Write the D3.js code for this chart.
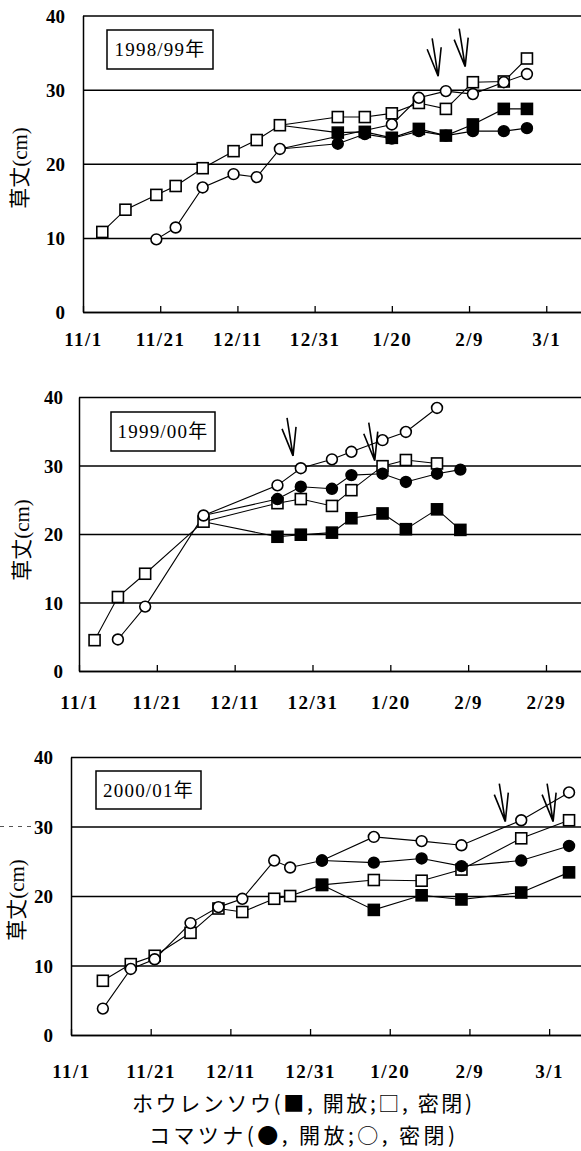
<!DOCTYPE html>
<html lang="ja">
<head>
<meta charset="UTF-8">
<title>草丈の推移</title>
<script src="https://d3js.org/d3.v7.min.js"></script>
<style>
    body { margin: 0; background: #fff; }
    svg { display: block; }
    .num { font-family: 'Liberation Serif', 'Times New Roman', serif; font-weight: bold; font-size: 19px; fill: #000; }
    .xnum { letter-spacing: 1.5px; }
    .ytitle { font-family: 'Liberation Serif', 'Noto Sans CJK JP', serif; font-size: 21px; fill: #000; }
    .year { font-family: 'Liberation Serif', 'Noto Sans CJK JP', serif; font-size: 19px; letter-spacing: 1.2px; fill: #000; }
    .legend { font-family: 'Noto Sans CJK JP', sans-serif; font-size: 21px; fill: #000; }
</style>
</head>
<body>
<div id="chart"></div>
<script>
// ---------- data (草丈 cm) ----------
// 1998/99
const dates1 = ["1998-11-06","1998-11-12","1998-11-20","1998-11-25","1998-12-02","1998-12-10","1998-12-16","1998-12-22",
                "1999-01-06","1999-01-13","1999-01-20","1999-01-27","1999-02-03","1999-02-10","1999-02-18","1999-02-24"];
const spinachClosed1   = [10.8, 13.8, 15.8, 17.0, 19.4, 21.7, 23.2, 25.2, 26.3, 26.3, 26.8, 28.2, 27.4, 31.0, 31.1, 34.2];
const komatsunaClosed1 = [null, null, 9.8, 11.4, 16.8, 18.6, 18.2, 22.0, null, null, 25.3, 28.9, 29.8, 29.4, 31.0, 32.1];
const spinachOpen1     = [null, null, null, null, null, null, null, 25.2, 24.2, 24.3, 23.5, 24.7, 23.8, 25.3, 27.4, 27.4];
const komatsunaOpen1   = [null, null, null, null, null, null, null, 22.0, 22.7, 24.0, 23.4, 24.4, 23.8, 24.4, 24.4, 24.8];
const arrows1 = [["1999-02-01", 31.8], ["1999-02-08", 33.1]];
const ticks1 = ["11/1", "11/21", "12/11", "12/31", "1/20", "2/9", "3/1"];

// 1999/00
const dates2 = ["1999-11-05","1999-11-11","1999-11-18","1999-12-03","1999-12-22","1999-12-28",
                "2000-01-05","2000-01-10","2000-01-18","2000-01-24","2000-02-01","2000-02-07"];
const spinachClosed2   = [4.5, 10.8, 14.2, 21.8, 24.5, 25.1, 24.1, 26.4, 29.9, 30.8, 30.3, null];
const komatsunaClosed2 = [null, 4.6, 9.4, 22.7, 27.1, 29.6, 30.9, 32.0, 33.7, 34.9, 38.4, null];
const spinachOpen2     = [null, null, null, 21.8, 19.6, 19.9, 20.2, 22.3, 23.0, 20.7, 23.6, 20.6];
const komatsunaOpen2   = [null, null, null, 22.7, 25.1, 26.9, 26.6, 28.6, 28.8, 27.6, 28.8, 29.4];
const arrows2 = [["1999-12-26", 31.4], ["2000-01-16", 30.7]];
const ticks2 = ["11/1", "11/21", "12/11", "12/31", "1/20", "2/9", "2/29"];

// 2000/01
const dates3 = ["2000-11-09","2000-11-16","2000-11-22","2000-12-01","2000-12-08","2000-12-14","2000-12-22","2000-12-26",
                "2001-01-03","2001-01-16","2001-01-28","2001-02-07","2001-02-22","2001-03-06"];
const spinachClosed3   = [7.8, 10.2, 11.4, 14.7, 18.2, 17.7, 19.6, 20.0, 21.6, 22.3, 22.2, 23.8, 28.3, 30.9];
const komatsunaClosed3 = [3.8, 9.5, 10.9, 16.1, 18.4, 19.6, 25.1, 24.1, 25.1, 28.5, 27.9, 27.3, 30.9, 34.9];
const spinachOpen3     = [null, null, null, null, null, null, null, null, 21.6, 18.0, 20.1, 19.5, 20.5, 23.4];
const komatsunaOpen3   = [null, null, null, null, null, null, null, null, 25.1, 24.8, 25.4, 24.3, 25.1, 27.2];
const arrows3 = [["2001-02-18", 30.7], ["2001-03-02", 30.7]];
const ticks3 = ["11/1", "11/21", "12/11", "12/31", "1/20", "2/9", "3/1"];

const yTicks = [0, 10, 20, 30, 40];
const legendLines = ["ホウレンソウ(■, 開放;□, 密閉)", "コマツナ(●, 開放;○, 密閉)"];

// ---------- layout ----------
const W = 581, H = 1151;
const parse = d3.timeParse("%Y-%m-%d");

const panels = [
    { year: "1998/99年", start: "1998-11-01", end: "1999-03-10", dates: dates1, ticks: ticks1, arrows: arrows1,
      sqClosed: spinachClosed1, ciClosed: komatsunaClosed1, sqOpen: spinachOpen1, ciOpen: komatsunaOpen1, markFrom: 8,
      left: 83, top: 15.5, bottom: 312, labelRight: 65, xPad: 21, box: [107, 30, 106, 39], title: [20, 168] },
    { year: "1999/00年", start: "1999-11-01", end: "2000-03-09", dates: dates2, ticks: ticks2, arrows: arrows2,
      sqClosed: spinachClosed2, ciClosed: komatsunaClosed2, sqOpen: spinachOpen2, ciOpen: komatsunaOpen2, markFrom: 4,
      left: 79, top: 397, bottom: 671, labelRight: 63, xPad: 25, box: [111, 412, 104, 39], title: [22, 540] },
    { year: "2000/01年", start: "2000-11-01", end: "2001-03-09", dates: dates3, ticks: ticks3, arrows: arrows3,
      sqClosed: spinachClosed3, ciClosed: komatsunaClosed3, sqOpen: spinachOpen3, ciOpen: komatsunaOpen3, markFrom: 8,
      left: 71, top: 757, bottom: 1035, labelRight: 53, xPad: 30, box: [96, 771, 105, 38], title: [17, 900] }
];

const svg = d3.select("#chart").append("svg")
    .attr("width", W)
    .attr("height", H);

svg.append("rect").attr("width", W).attr("height", H).attr("fill", "#fff");

function drawPanel(p) {
    const x = d3.scaleTime().domain([parse(p.start), parse(p.end)]).range([p.left, W]);
    const y = d3.scaleLinear().domain([0, 40]).range([p.bottom, p.top]);
    const g = svg.append("g");

    // y axis with full-width gridlines
    const yAxis = d3.axisLeft(y)
        .tickValues(yTicks)
        .tickSizeInner(-(W - p.left))
        .tickSizeOuter(0)
        .tickPadding(p.left - p.labelRight);
    const gy = g.append("g").attr("transform", `translate(${p.left},0)`).call(yAxis);
    gy.selectAll("line, path").attr("stroke", "#000").attr("stroke-width", 1.5);
    gy.selectAll("text").attr("class", "num").attr("dy", "0.36em");

    // x axis, ticks every 20 days pointing inward
    const t0 = parse(p.start);
    const tickDates = p.ticks.map((t, i) => d3.timeDay.offset(t0, 20 * i));
    const xAxis = d3.axisBottom(x)
        .tickValues(tickDates)
        .tickFormat((d, i) => p.ticks[i])
        .tickSizeInner(-6)
        .tickSizeOuter(0)
        .tickPadding(p.xPad);
    const gx = g.append("g").attr("transform", `translate(0,${p.bottom})`).call(xAxis);
    gx.select("path").attr("stroke", "#000").attr("stroke-width", 1.5);
    gx.selectAll("line").attr("stroke", "#000").attr("stroke-width", 1.3);
    gx.selectAll("text").attr("class", "num xnum");

    // y title
    g.append("text")
        .attr("class", "ytitle")
        .attr("transform", `translate(${p.title[0]},${p.title[1]}) rotate(-90)`)
        .attr("text-anchor", "middle")
        .attr("dy", "0.35em")
        .text("草丈(cm)");

    // year box
    const [bx, by, bw, bh] = p.box;
    g.append("rect")
        .attr("x", bx).attr("y", by).attr("width", bw).attr("height", bh)
        .attr("fill", "#fff").attr("stroke", "#000").attr("stroke-width", 1.5);
    g.append("text")
        .attr("class", "year")
        .attr("x", bx + bw / 2)
        .attr("y", by + bh / 2)
        .attr("dy", "0.36em")
        .attr("text-anchor", "middle")
        .text(p.year);

    // series
    const series = [
        { vals: p.sqClosed, shape: "square", fill: "#fff", from: 0 },
        { vals: p.ciClosed, shape: "circle", fill: "#fff", from: 0 },
        { vals: p.sqOpen, shape: "square", fill: "#000", from: p.markFrom },
        { vals: p.ciOpen, shape: "circle", fill: "#000", from: p.markFrom }
    ];
    series.forEach(s => {
        s.pts = p.dates.map((d, i) => ({ date: parse(d), v: s.vals[i], i: i })).filter(d => d.v !== null);
    });

    const line = d3.line().x(d => x(d.date)).y(d => y(d.v));
    series.forEach(s => {
        g.append("path")
            .datum(s.pts)
            .attr("d", line)
            .attr("fill", "none")
            .attr("stroke", "#000")
            .attr("stroke-width", 1.1);
    });

    series.forEach(s => {
        const pts = s.pts.filter(d => d.i >= s.from);
        if (s.shape === "square") {
            g.selectAll(null).data(pts).join("rect")
                .attr("x", d => x(d.date) - 5.5)
                .attr("y", d => y(d.v) - 5.5)
                .attr("width", 11).attr("height", 11)
                .attr("fill", s.fill).attr("stroke", "#000").attr("stroke-width", 1.6);
        } else {
            g.selectAll(null).data(pts).join("circle")
                .attr("cx", d => x(d.date))
                .attr("cy", d => y(d.v))
                .attr("r", 5.4)
                .attr("fill", s.fill).attr("stroke", "#000").attr("stroke-width", 1.6);
        }
    });

    // harvest arrows
    g.selectAll(null).data(p.arrows).join("path")
        .attr("d", d => {
            const tx = x(parse(d[0])), ty = y(d[1]);
            return `M${tx - 6},${ty - 38}L${tx},${ty}M${tx - 11},${ty - 27}L${tx},${ty}M${tx + 3},${ty - 29}L${tx},${ty}`;
        })
        .attr("fill", "none")
        .attr("stroke", "#000")
        .attr("stroke-width", 1.6);

    return { x, y };
}

const scales = panels.map(drawPanel);

// stray scan mark left of the third panel
svg.append("line")
    .attr("x1", 0).attr("x2", 33)
    .attr("y1", scales[2].y(30)).attr("y2", scales[2].y(30))
    .attr("stroke", "#555").attr("stroke-width", 1)
    .attr("stroke-dasharray", "4,5");

// legend
svg.selectAll(".legend").data(legendLines).join("text")
    .attr("class", "legend")
    .attr("x", 302)
    .attr("y", (d, i) => i === 0 ? 1111 : 1143)
    .attr("text-anchor", "middle")
    .attr("textLength", (d, i) => i === 0 ? 340 : 306)
    .attr("lengthAdjust", "spacing")
    .text(d => d);
</script>
</body>
</html>
